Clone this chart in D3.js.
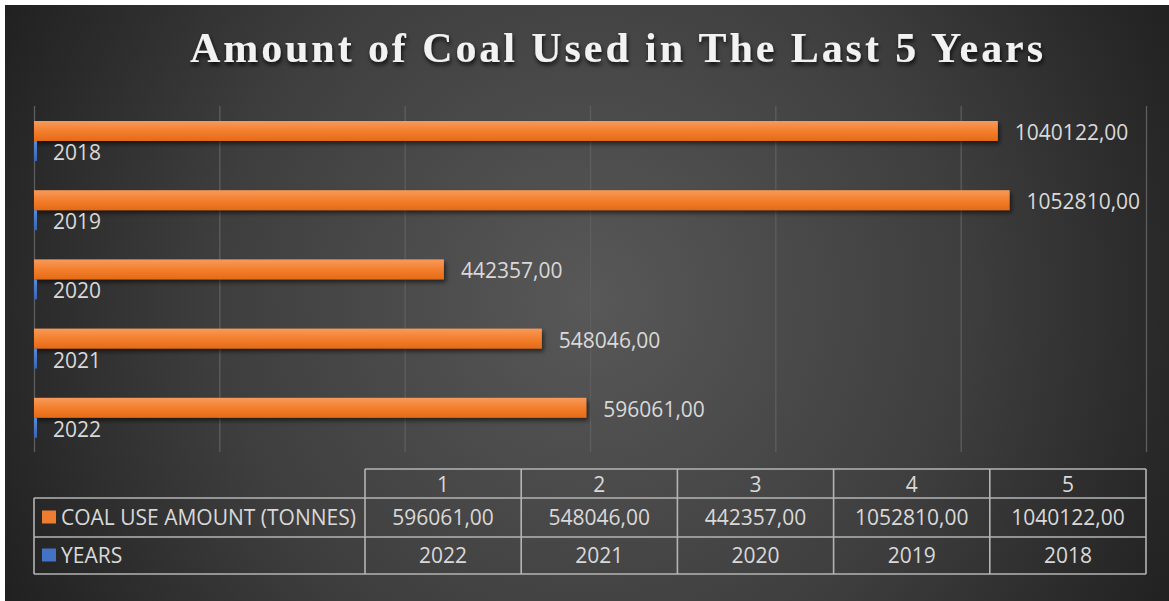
<!DOCTYPE html>
<html>
<head>
<meta charset="utf-8">
<script src="https://cdn.jsdelivr.net/npm/d3@7"></script>
<style>
  html, body { margin: 0; padding: 0; background: #ffffff; }
  svg { display: block; }
  .lbl { font-family: "Open Sans", sans-serif; font-size: 21px; fill: #d9d9d9; }
</style>
</head>
<body>
<svg id="chart" width="1169" height="601"></svg>
<script>
// chart data
const categories = ['1', '2', '3', '4', '5'];
const coalAmounts = [596061, 548046, 442357, 1052810, 1040122];
const years = [2022, 2021, 2020, 2019, 2018];
const seriesNames = ['COAL USE AMOUNT (TONNES)', 'YEARS'];
const seriesColors = ['#ed7d31', '#4472c4'];
const xDomain = [0, 1200000];
const titleText = 'Amount of Coal Used in The Last 5 Years';

let svg = d3.select('#chart');
let W = 1169, H = 601;
let plot = { 'left': 34, 'right': 1146, 'top': 106, 'bottom': 452 };
let table = { 'left': 34, 'dataLeft': 365, 'right': 1146, 'rows': [469, 498, 537, 574] };

let fmt = d3.formatLocale({ decimal: ',', thousands: '', grouping: [3], currency: ['', ''] }).format('.2f');

let defs = svg.append('defs');

let bg = defs.append('radialGradient')
    .attr('id', 'bg-grad')
    .attr('gradientUnits', 'userSpaceOnUse')
    .attr('cx', 590).attr('cy', 300).attr('r', 680);
bg.selectAll('stop')
    .data([['0%', '#585858'], ['55%', '#3e3e3e'], ['100%', '#1e1e1e']])
    .enter().append('stop')
    .attr('offset', d => d[0])
    .attr('stop-color', d => d[1]);

let orangeGrad = defs.append('linearGradient')
    .attr('id', 'bar-orange')
    .attr('x1', '0%').attr('y1', '0%').attr('x2', '0%').attr('y2', '100%');
orangeGrad.selectAll('stop')
    .data([['0%', '#f79a5a'], ['50%', '#f37f2e'], ['100%', '#e56a16']])
    .enter().append('stop')
    .attr('offset', d => d[0])
    .attr('stop-color', d => d[1]);

let blueGrad = defs.append('linearGradient')
    .attr('id', 'bar-blue')
    .attr('x1', '0%').attr('y1', '0%').attr('x2', '0%').attr('y2', '100%');
blueGrad.selectAll('stop')
    .data([['0%', '#5a8ad8'], ['100%', '#3a64b4']])
    .enter().append('stop')
    .attr('offset', d => d[0])
    .attr('stop-color', d => d[1]);

defs.append('filter')
    .attr('id', 'bar-shadow')
    .attr('x', '-5%').attr('y', '-50%').attr('width', '110%').attr('height', '250%')
    .append('feDropShadow')
    .attr('dx', 2).attr('dy', 3).attr('stdDeviation', 2)
    .attr('flood-color', '#000').attr('flood-opacity', 0.55);

defs.append('filter')
    .attr('id', 'title-shadow')
    .attr('x', '-5%').attr('y', '-30%').attr('width', '110%').attr('height', '160%')
    .append('feDropShadow')
    .attr('dx', 1).attr('dy', 3).attr('stdDeviation', 2)
    .attr('flood-color', '#000').attr('flood-opacity', 0.8);

// background panel
svg.append('rect')
    .attr('x', 5).attr('y', 5)
    .attr('width', W - 5).attr('height', H - 5)
    .attr('fill', 'url(#bg-grad)');

// title
svg.append('text')
    .attr('x', 190)
    .attr('y', 62)
    .attr('textLength', 853)
    .attr('lengthAdjust', 'spacing')
    .attr('filter', 'url(#title-shadow)')
    .style('font-family', '"Liberation Serif", "Times New Roman", serif')
    .style('font-weight', 'bold')
    .style('font-size', '42px')
    .style('fill', '#f2f2f2')
    .text(titleText);

// scales
let x = d3.scaleLinear().domain(xDomain).range([plot.left, plot.right]);
let y = d3.scaleBand()
    .domain(categories.slice().reverse())
    .range([plot.top, plot.bottom]);
let ySeries = d3.scaleBand()
    .domain(seriesNames)
    .range([15, 55]);

// gridlines
let grid = svg.append('g')
    .attr('transform', `translate(0 ${plot.bottom})`)
    .call(d3.axisBottom(x).ticks(6).tickSize(-(plot.bottom - plot.top)).tickFormat(''));
grid.select('.domain').remove();
grid.selectAll('.tick line')
    .attr('stroke', '#5e5e5e')
    .attr('stroke-width', 1.3);

// bars
let rows = categories.map((c, i) => ({
    'cat': c,
    'values': [
        { 'series': seriesNames[0], 'value': coalAmounts[i], 'label': fmt(coalAmounts[i]) },
        { 'series': seriesNames[1], 'value': years[i], 'label': String(years[i]) }
    ]
}));

let groups = svg.selectAll('.cat')
    .data(rows)
    .enter().append('g')
    .classed('cat', true)
    .attr('transform', d => `translate(0 ${y(d.cat)})`);

groups.selectAll('rect')
    .data(d => d.values)
    .enter().append('rect')
    .attr('x', x(0))
    .attr('y', d => ySeries(d.series))
    .attr('width', d => Math.max(3, x(d.value) - x(0)))
    .attr('height', ySeries.bandwidth())
    .attr('fill', (d, i) => i === 0 ? 'url(#bar-orange)' : 'url(#bar-blue)')
    .attr('filter', (d, i) => i === 0 ? 'url(#bar-shadow)' : null);

groups.selectAll('text')
    .data(d => d.values)
    .enter().append('text')
    .classed('lbl', true)
    .attr('x', d => Math.max(x(d.value), x(0) + 2) + 17)
    .attr('y', d => ySeries(d.series) + ySeries.bandwidth() / 2 + 1)
    .attr('dominant-baseline', 'central')
    .text(d => d.label);

// data table
let col = d3.scaleBand().domain(categories).range([table.dataLeft, table.right]);
let tr = table.rows;
let tbl = svg.append('g')
    .attr('fill', 'none')
    .attr('stroke', '#b4b4b4')
    .attr('stroke-width', 1.6);

tbl.append('line').attr('x1', table.dataLeft).attr('x2', table.right).attr('y1', tr[0]).attr('y2', tr[0]);
tbl.selectAll('.hline')
    .data([tr[1], tr[2], tr[3]])
    .enter().append('line')
    .attr('x1', table.left).attr('x2', table.right)
    .attr('y1', d => d).attr('y2', d => d);
tbl.append('line').attr('x1', table.left).attr('x2', table.left).attr('y1', tr[1]).attr('y2', tr[3]);
tbl.selectAll('.vline')
    .data(categories.map(c => col(c)).concat([table.right]))
    .enter().append('line')
    .attr('x1', d => d).attr('x2', d => d)
    .attr('y1', tr[0]).attr('y2', tr[3]);

let headY = (tr[0] + tr[1]) / 2;
let rowY = [(tr[1] + tr[2]) / 2, (tr[2] + tr[3]) / 2];

svg.selectAll('.head')
    .data(categories)
    .enter().append('text')
    .classed('lbl', true)
    .attr('x', d => col(d) + col.bandwidth() / 2)
    .attr('y', headY)
    .attr('text-anchor', 'middle')
    .attr('dominant-baseline', 'central')
    .text(d => d);

let tableValues = [coalAmounts.map(fmt), years.map(String)];
tableValues.forEach((vals, r) => {
    svg.selectAll(`.cell-${r}`)
        .data(vals)
        .enter().append('text')
        .classed('lbl', true)
        .attr('x', (d, i) => col(categories[i]) + col.bandwidth() / 2)
        .attr('y', rowY[r] - 1)
        .attr('text-anchor', 'middle')
        .attr('dominant-baseline', 'central')
        .text(d => d);
});

// legend keys
svg.selectAll('.key')
    .data(seriesNames)
    .enter().append('rect')
    .attr('x', 42)
    .attr('y', (d, i) => rowY[i] - 7)
    .attr('width', 14)
    .attr('height', 13)
    .attr('fill', (d, i) => seriesColors[i]);

svg.selectAll('.keytext')
    .data(seriesNames)
    .enter().append('text')
    .classed('lbl', true)
    .attr('x', 61)
    .attr('y', (d, i) => rowY[i] - 1)
    .attr('dominant-baseline', 'central')
    .text(d => d);
</script>
</body>
</html>
